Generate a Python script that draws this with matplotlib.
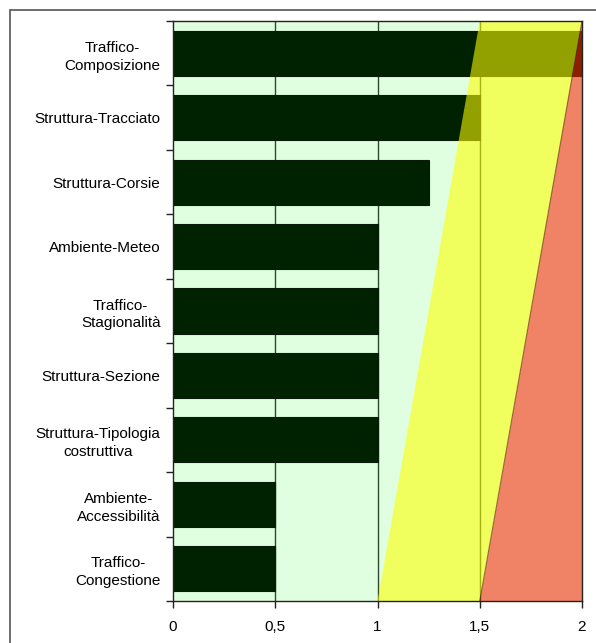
import matplotlib
matplotlib.use("Agg")
import matplotlib.pyplot as plt
from matplotlib.patches import Polygon, Rectangle
import numpy as np

plt.rcParams['font.family'] = ['Liberation Sans', 'DejaVu Sans']

categories = [
    "Traffico-\nComposizione",
    "Struttura-Tracciato",
    "Struttura-Corsie",
    "Ambiente-Meteo",
    "Traffico-\nStagionalità",
    "Struttura-Sezione",
    "Struttura-Tipologia\ncostruttiva",
    "Ambiente-\nAccessibilità",
    "Traffico-\nCongestione",
]
values = [2.0, 1.5, 1.25, 1.0, 1.0, 1.0, 1.0, 0.5, 0.5]

xticks = [0, 0.5, 1, 1.5, 2]
xtick_labels = ["0", "0,5", "1", "1,5", "2"]

# zone boundaries: (x at bottom, x at top) of the sloped limits
yellow_limit = (1.0, 1.5)
red_limit = (1.5, 2.0)

fig = plt.figure(figsize=(5.96, 6.43), dpi=100)
fig.patch.set_facecolor("white")

# outer frame of the chart
frame = Rectangle((10 / 596, -0.05), 1.1, 1 - 10 / 643 + 0.05, transform=fig.transFigure,
                  fill=False, edgecolor="#555555", linewidth=1.2)
fig.add_artist(frame)

ax = fig.add_axes([173 / 596, 42 / 643, (582 - 173) / 596, (601 - 21) / 643])
ax.set_facecolor("#e0ffe0")

n = len(categories)
ypos = np.arange(n)
ax.set_xlim(0, 2)
ax.set_ylim(n - 0.5, -0.5)

for gx in [0.5, 1.0, 1.5]:
    ax.axvline(gx, color="#2e4a2e", linewidth=1.0, zorder=1)

ax.barh(ypos, values, height=0.7, color="#002200", edgecolor="#0a1a0a",
        linewidth=0.8, zorder=2)

y_bot, y_top = n - 0.5, -0.5
yellow = Polygon([(yellow_limit[0], y_bot), (red_limit[0], y_bot),
                  (red_limit[1], y_top), (yellow_limit[1], y_top)],
                 closed=True, facecolor="#ffff00", alpha=0.58,
                 edgecolor="none", zorder=3)
red = Polygon([(red_limit[0], y_bot), (2.0, y_bot), (2.0, y_top), (red_limit[1], y_top)],
              closed=True, facecolor="#ff1e00", alpha=0.55,
              edgecolor="none", zorder=3)
ax.add_patch(yellow)
ax.add_patch(red)
ax.plot([red_limit[0], red_limit[1]], [y_bot, y_top], color="#552200",
        linewidth=0.8, alpha=0.6, zorder=4)

ax.set_xticks(xticks)
ax.set_xticklabels(xtick_labels, fontsize=11)
ax.set_yticks(ypos)
ax.set_yticklabels(categories, fontsize=11, multialignment="center", linespacing=1.35)
ax.tick_params(axis="y", length=0, pad=9)
ax.set_yticks(np.arange(n + 1) - 0.5, minor=True)
ax.tick_params(axis="y", which="minor", length=5, width=1, direction="out", color="#222222")
ax.tick_params(axis="x", length=5, width=1, direction="out", color="#222222", pad=9)

for s in ax.spines.values():
    s.set_color("#222222")
    s.set_linewidth(1.0)
    s.set_zorder(5)

fig.savefig("out.png", dpi=100)
